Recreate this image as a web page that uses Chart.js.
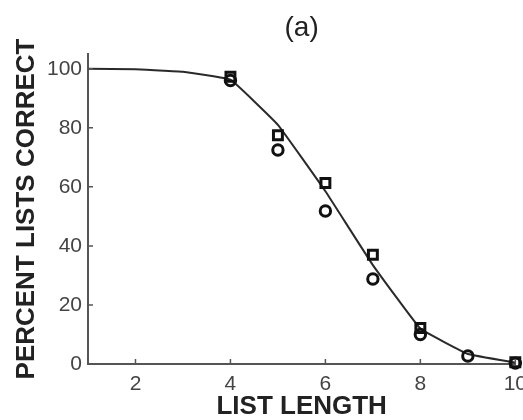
<!DOCTYPE html>
<html>
<head>
<meta charset="utf-8">
<script src="https://cdn.jsdelivr.net/npm/chart.js@4/dist/chart.umd.min.js"></script>
<style>
html,body{margin:0;padding:0;overflow:hidden;background:#fff;width:523px;height:420px}
#wrap{width:535px;height:420px;position:relative}
canvas{display:block}
</style>
</head>
<body>
<div id="wrap"><canvas id="c" width="535" height="420"></canvas></div>
<script>
const curveX = [1, 2, 3, 4, 5, 6, 7, 8, 9, 10];
const curveY = [100, 99.8, 99, 96.3, 81, 58.5, 33.5, 12, 3.4, 0.5];
const listLengths = [4, 5, 6, 7, 8, 9, 10];
const squareValues = [97.3, 77.5, 61.3, 37, 12.2, null, 0.6];
const circleValues = [96, 72.5, 51.8, 28.8, 10, 2.7, 0.3];
const xTickValues = [2, 4, 6, 8, 10];
const yTickValues = [0, 20, 40, 60, 80, 100];

const toPts = (xs, ys) => xs.map((v, i) => ({x: v, y: ys[i]}));

const inwardTicks = {
  id: 'inwardTicks',
  afterDatasetsDraw(chart) {
    const {ctx, chartArea: a, scales: {x, y}} = chart;
    ctx.save();
    ctx.strokeStyle = '#555';
    ctx.lineWidth = 1.5;
    ctx.beginPath();
    xTickValues.forEach(v => { const px = x.getPixelForValue(v); ctx.moveTo(px, a.bottom); ctx.lineTo(px, a.bottom - 5); });
    yTickValues.forEach(v => { const py = y.getPixelForValue(v); ctx.moveTo(a.left - 1, py); ctx.lineTo(a.left + 5, py); });
    ctx.stroke();
    ctx.restore();
  }
};

new Chart(document.getElementById('c'), {
  type: 'scatter',
  data: {
    datasets: [
      {
        label: 'squares',
        data: toPts(listLengths, squareValues),
        pointStyle: 'rect',
        pointRadius: 6.3,
        borderWidth: 3,
        borderColor: '#111',
        backgroundColor: 'rgba(0,0,0,0)',
        showLine: false,
        clip: false
      },
      {
        label: 'circles',
        data: toPts(listLengths, circleValues),
        pointStyle: 'circle',
        pointRadius: 5.2,
        borderWidth: 3,
        borderColor: '#111',
        backgroundColor: 'rgba(0,0,0,0)',
        showLine: false,
        clip: false
      },
      {
        label: 'model',
        data: toPts(curveX, curveY),
        showLine: true,
        pointRadius: 0,
        borderColor: '#2a2a2a',
        borderWidth: 2,
        tension: 0.08,
        fill: false,
        clip: false
      }
    ]
  },
  options: {
    responsive: false,
    devicePixelRatio: 1,
    animation: false,
    layout: {padding: {left: 0, right: 0, top: 0, bottom: 0}},
    plugins: {
      legend: {display: false},
      tooltip: {enabled: false},
      title: {
        display: true,
        text: '(a)',
        fullSize: false,
        color: '#222',
        font: {family: 'Liberation Sans', size: 28, weight: 'normal', lineHeight: 1.2},
        padding: {top: 11, bottom: 9.4}
      }
    },
    scales: {
      x: {
        type: 'linear',
        min: 1,
        max: 10,
        afterBuildTicks: s => { s.ticks = xTickValues.map(v => ({value: v})); },
        afterFit: s => { s.height = 56; },
        grid: {display: true, drawOnChartArea: false, drawTicks: false},
        border: {display: true, color: '#555', width: 2},
        ticks: {color: '#444', padding: 8, font: {family: 'Liberation Sans', size: 21}, maxRotation: 0},
        title: {
          display: true,
          text: 'LIST LENGTH',
          color: '#222',
          font: {family: 'Liberation Sans', size: 26, weight: 'bold', lineHeight: 1.0},
          padding: {top: 0, bottom: 0}
        }
      },
      y: {
        type: 'linear',
        min: 0,
        max: 105,
        afterBuildTicks: s => { s.ticks = yTickValues.map(v => ({value: v})); },
        afterFit: s => { s.width = 88; },
        grid: {display: true, drawOnChartArea: false, drawTicks: false},
        border: {display: true, color: '#555', width: 2},
        ticks: {color: '#444', padding: 6, font: {family: 'Liberation Sans', size: 21}},
        title: {
          display: true,
          text: 'PERCENT LISTS CORRECT',
          color: '#222',
          font: {family: 'Liberation Sans', size: 26, weight: 'bold', lineHeight: 1.0},
          padding: {top: 14, bottom: 0}
        }
      }
    }
  },
  plugins: [inwardTicks]
});
</script>
</body>
</html>
